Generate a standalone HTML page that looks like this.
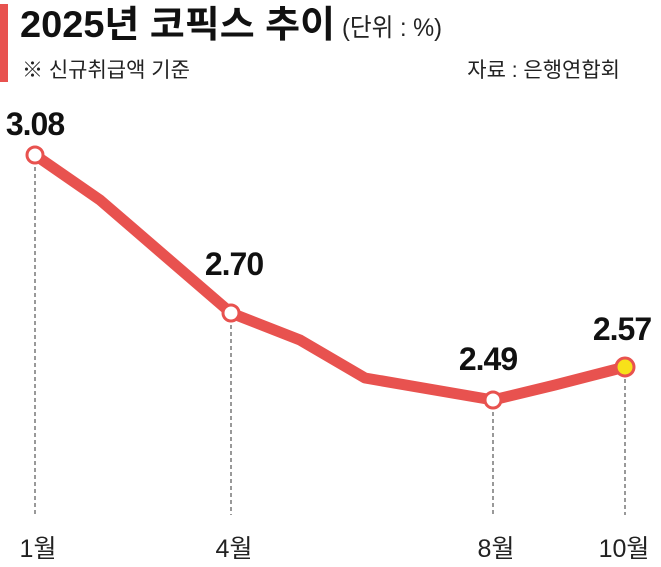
<!DOCTYPE html>
<html><head><meta charset="utf-8"><style>
body{margin:0;width:661px;height:567px;background:#fff;overflow:hidden;font-family:"Liberation Sans","Noto Sans CJK KR",sans-serif;}
</style></head><body>
<svg width="661" height="567" xmlns="http://www.w3.org/2000/svg" style="position:absolute;left:0;top:0">
<rect x="0" y="4" width="8" height="78" fill="#e8524f"/>
<text x="20" y="37" font-size="37" font-weight="bold" fill="#111" font-family="Liberation Sans, Noto Sans CJK KR, sans-serif" textLength="315" lengthAdjust="spacingAndGlyphs">2025년 코픽스 추이</text>
<text x="342" y="36" font-size="25" fill="#222" font-family="Liberation Sans, Noto Sans CJK KR, sans-serif" textLength="100" lengthAdjust="spacingAndGlyphs">(단위 : %)</text>
<text x="22" y="77" font-size="21" fill="#222" font-family="Liberation Sans, Noto Sans CJK KR, sans-serif">※ 신규취급액 기준</text>
<text x="620" y="77" font-size="21" fill="#222" text-anchor="end" font-family="Liberation Sans, Noto Sans CJK KR, sans-serif">자료 : 은행연합회</text>
<g stroke="#333" stroke-width="1" stroke-dasharray="4,3">
<line x1="35" y1="160" x2="35" y2="515"/>
<line x1="231" y1="318" x2="231" y2="515"/>
<line x1="493" y1="405" x2="493" y2="515"/>
<line x1="625" y1="372" x2="625" y2="515"/>
</g>
<polyline points="35,155 100,200 231,313 300,340 365,378 493,400 555,385 625,367" fill="none" stroke="#e8524f" stroke-width="11" stroke-linejoin="round" stroke-linecap="round"/>
<circle cx="35" cy="155" r="8" fill="#fff" stroke="#e8524f" stroke-width="3"/>
<circle cx="231" cy="313" r="8" fill="#fff" stroke="#e8524f" stroke-width="3"/>
<circle cx="493" cy="400" r="8" fill="#fff" stroke="#e8524f" stroke-width="3"/>
<circle cx="625" cy="367" r="9" fill="#f7e11a" stroke="#e8524f" stroke-width="3"/>
<g font-size="32" font-weight="bold" fill="#111" text-anchor="middle" letter-spacing="-1">
<text x="35" y="135">3.08</text>
<text x="234" y="275">2.70</text>
<text x="488" y="370">2.49</text>
<text x="622" y="340">2.57</text>
</g>
<g font-size="25" fill="#222" text-anchor="middle" font-family="Liberation Sans, Noto Sans CJK KR, sans-serif">
<text x="38" y="557">1월</text>
<text x="234" y="557">4월</text>
<text x="496" y="557">8월</text>
<text x="624" y="557">10월</text>
</g>
</svg>
</body></html>
